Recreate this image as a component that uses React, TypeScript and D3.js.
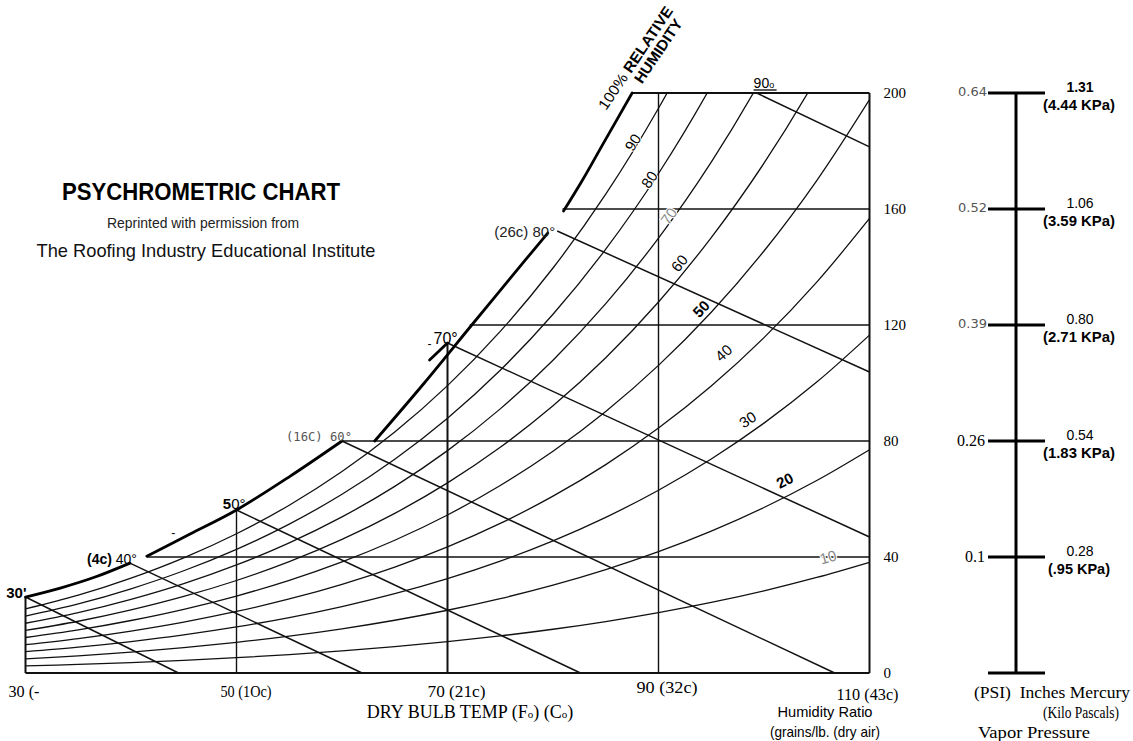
import React from 'react';
import * as d3 from 'd3';

// ---------- DATA ----------
const tempsF = [30, 35, 40, 45, 50, 55, 60, 65, 70, 75, 80, 85, 90, 95, 100, 105, 110];
// saturation vapour pressure of water (psia) at each dry-bulb temperature
const satPressurePsi = [0.0824, 0.09995, 0.12173, 0.14756, 0.17812, 0.21413, 0.25638, 0.30578, 0.36334,
  0.43016, 0.50745, 0.59659, 0.69904, 0.81643, 0.95052, 1.10323, 1.27667];
const ATM_PSI = 14.696;
const rhLevels = [10, 20, 30, 40, 50, 60, 70, 80, 90];
const rhLabelTemps = [106.5, 102.6, 99.1, 97.2, 94.7, 92.6, 91.3, 89.45, 87.9];

// drawn 100% RH (saturation) line, in pieces as printed
const satTempsA = [30, 33.3, 36.6, 39.9];
const satGrainsA = [26.2, 29.3, 33.1, 37.9];
const satTempsB = [41.5, 45.6, 50, 55.1, 60];
const satGrainsB = [40.3, 47.9, 56.2, 67.9, 80];
const satTempsC = [63.1, 67.8, 72.3, 75.9, 79.5];
const satGrainsC = [80, 100, 120, 135.9, 151.7];
const satTempsD = [81.0, 82.8, 84.8, 87.5];
const satGrainsD = [159.3, 170, 182.8, 200];
const satTempsE = [68.3, 70];
const satGrainsE = [107.9, 113.8];

// wet-bulb lines
const wbStartT = [30, 39.9, 50, 60, 70, 80.4, 99.3];
const wbStartW = [26.2, 37.9, 56.2, 80, 113.8, 152.4, 200];
const wbEndT = [44.5, 61.9, 82.6, 106.7, 110, 110, 110];
const wbEndW = [0, 0, 0, 0, 46.9, 103.8, 181.4];

// dry-bulb verticals
const dbTemps = [50, 70, 90];
const dbTopGrains = [56.2, 113.8, 200];

// humidity-ratio horizontals
const hrValues = [40, 80, 120, 160, 200];
const hrStartT = [41.5, 60, 72.1, 80.9, 87.5];
const hrTicks = [0, 40, 80, 120, 160, 200];

const xTickTemps = [30, 50, 70, 90, 110];
const xTickLabels = ['30 (-', '50 (1Oc)', '70 (21c)', '90 (32c)', '110 (43c)'];

// vapour pressure scale
const vpGrains = [200, 160, 120, 80, 40];
const vpPsi = ['0.64', '0.52', '0.39', '0.26', '0.1'];
const vpInHg = ['1.31', '1.06', '0.80', '0.54', '0.28'];
const vpKpa = ['(4.44 KPa)', '(3.59 KPa)', '(2.71 KPa)', '(1.83 KPa)', '(.95 KPa)'];

const grains = (pv: number) => (0.622 * 7000 * pv) / (ATM_PSI - pv);

export default function App() {
  const x = d3.scaleLinear().domain([30, 110]).range([25.5, 869.5]);
  const y = d3.scaleLinear().domain([0, 200]).range([673, 93]);
  const straight = d3.line<[number, number]>().x(d => x(d[0])).y(d => y(d[1]));
  const smooth = d3.line<[number, number]>().x(d => x(d[0])).y(d => y(d[1])).curve(d3.curveCatmullRom.alpha(0.5));
  const pwsAt = d3.scaleLinear().domain(tempsF).range(satPressurePsi);

  const zip = (a: number[], b: number[]) => a.map((v, i) => [v, b[i]] as [number, number]);
  const satSegs = [zip(satTempsA, satGrainsA), zip(satTempsB, satGrainsB), zip(satTempsC, satGrainsC), zip(satTempsD, satGrainsD), zip(satTempsE, satGrainsE)];

  const xLabelOffsets = [[-17, 697], [-16, 697], [-20, 697], [-22, 693], [-33, 700]];
  const xLabelLens = [31, 51, 58, 61, 62];
  const rhStyles: Record<number, { fill: string; weight: string; off: number }> = {
    10: { fill: '#888', weight: 'normal', off: -16.5 },
    20: { fill: '#000', weight: 'bold', off: -14.5 },
    30: { fill: '#000', weight: 'normal', off: -12 },
    40: { fill: '#000', weight: 'normal', off: -16 },
    50: { fill: '#000', weight: 'bold', off: -9.5 },
    60: { fill: '#000', weight: 'normal', off: -8.5 },
    70: { fill: '#888', weight: 'normal', off: -4 },
    80: { fill: '#000', weight: 'normal', off: -4 },
    90: { fill: '#000', weight: 'normal', off: -4 },
  };

  const lineColor = '#111';

  return (
    <svg width={1133} height={741} style={{ position: 'absolute', left: 0, top: 0, background: '#fff' }}
      fontFamily="'Liberation Sans', Arial, sans-serif">
      <defs>
        <clipPath id="plot">
          <rect x={x(30)} y={y(200)} width={x(110) - x(30)} height={y(0) - y(200)} />
        </clipPath>
      </defs>
      <rect x={0} y={0} width={1133} height={741} fill="#fff" />

      {/* RH curves */}
      <g clipPath="url(#plot)" fill="none" stroke={lineColor} strokeWidth={1.3}>
        {rhLevels.map(rh => (
          <path key={rh} d={smooth(tempsF.map((t, i) => [t, grains((rh / 100) * satPressurePsi[i])] as [number, number])) || ''} />
        ))}
      </g>

      {/* horizontals & verticals */}
      <g stroke={lineColor} strokeWidth={1.4}>
        {hrValues.map((w, i) => (
          <line key={w} x1={x(hrStartT[i])} x2={x(110)} y1={y(w)} y2={y(w)} strokeWidth={w === 200 ? 2.2 : 1.4} />
        ))}
        {dbTemps.map((t, i) => (
          <line key={t} x1={x(t)} x2={x(t)} y1={y(0)} y2={y(dbTopGrains[i])} strokeWidth={t === 70 ? 2 : 1.4} />
        ))}
        <line x1={x(30)} x2={x(110)} y1={y(0)} y2={y(0)} strokeWidth={2.2} />
        <line x1={x(110)} x2={x(110)} y1={y(0)} y2={y(200)} strokeWidth={2} />
        <line x1={x(30)} x2={x(30)} y1={y(0)} y2={y(satGrainsA[0])} strokeWidth={2} />
      </g>

      {/* wet-bulb lines */}
      <g fill="none" stroke={lineColor} strokeWidth={1.5}>
        {wbStartT.map((t, i) => (
          <path key={i} d={straight([[t, wbStartW[i]], [wbEndT[i], wbEndW[i]]]) || ''} />
        ))}
      </g>

      {/* saturation line */}
      <g fill="none" stroke="#000" strokeWidth={2.8} strokeLinecap="round">
        {satSegs.map((s, i) => <path key={i} d={smooth(s) || ''} />)}
      </g>

      {/* RH labels */}
      {rhLevels.map((rh, i) => {
        const t = rhLabelTemps[i];
        const w = grains((rh / 100) * pwsAt(t));
        const w1 = grains((rh / 100) * pwsAt(t - 0.6));
        const w2 = grains((rh / 100) * pwsAt(t + 0.6));
        const ang = (Math.atan2(y(w2) - y(w1), x(t + 0.6) - x(t - 0.6)) * 180) / Math.PI;
        const st = rhStyles[rh];
        return (
          <text key={rh} transform={`translate(${x(t)},${y(w)}) rotate(${ang})`} y={st.off} textAnchor="middle" dy="0.35em"
            fontSize={15} fill={st.fill} fontWeight={st.weight} stroke="#fff" strokeWidth={2} paintOrder="stroke">
            {rh}
          </text>
        );
      })}

      {/* saturation point labels */}
      <text x={x(30) + 1} y={y(satGrainsA[0]) + 1} textAnchor="end" fontSize={15} fontWeight="bold">30'</text>
      <text x={x(39.9) + 7} y={y(37.9) + 1} textAnchor="end" fontSize={14}>
        <tspan fontWeight="bold">(4c)</tspan> 40°
      </text>
      <text x={x(44.0)} y={y(46.9)} fontSize={12} textAnchor="middle">-</text>
      <text x={x(50) + 9} y={y(56.2) - 1} textAnchor="end" fontSize={15}>
        <tspan fontWeight="bold">5</tspan>0°
      </text>
      <text x={x(60) + 10} y={y(80) - 0.5} textAnchor="end" fontSize={12} fill="#555"
        fontFamily="'DejaVu Sans Mono', monospace" textLength={66} lengthAdjust="spacingAndGlyphs">(16C) 60°</text>
      <text x={x(70) - 14} y={y(113.8) + 1} fontSize={16}>70°</text>
      <text x={x(68.3)} y={y(112)} fontSize={12} textAnchor="middle">-</text>
      <text x={x(80.4) - 2} y={y(152.4) + 6} textAnchor="end" fontSize={15} fill="#222">(26c) 80°</text>
      <text x={x(99.3) - 3} y={y(200) - 5} fontSize={14}>
        90<tspan fontSize={9}>o</tspan>
      </text>
      <line x1={x(99.3) - 3} x2={x(99.3) + 20} y1={y(200) - 3} y2={y(200) - 3} stroke="#000" strokeWidth={1.3} />

      {/* 100% RELATIVE HUMIDITY */}
      <g transform="translate(606,111) rotate(-56)">
        <text x={0} y={0} fontSize={15} textLength={121} lengthAdjust="spacingAndGlyphs">
          <tspan>100% </tspan><tspan fontWeight="bold">RELATIVE</tspan>
        </text>
        <text x={42} y={15} fontSize={15} fontWeight="bold" textLength={74} lengthAdjust="spacingAndGlyphs">HUMIDITY</text>
      </g>

      {/* title */}
      <text x={201} y={200} textAnchor="middle" fontSize={23} fontWeight="bold" textLength={278} lengthAdjust="spacingAndGlyphs">PSYCHROMETRIC CHART</text>
      <text x={203} y={228} textAnchor="middle" fontSize={15} fill="#222" textLength={192} lengthAdjust="spacingAndGlyphs">Reprinted with permission from</text>
      <text x={206} y={257} textAnchor="middle" fontSize={19} fill="#111" textLength={339} lengthAdjust="spacingAndGlyphs">The Roofing Industry Educational Institute</text>

      {/* right axis ticks */}
      {hrTicks.map(w => (
        <text key={w} x={x(110) + 14} y={y(w) + 5} fontSize={15} fontFamily="'Liberation Serif', serif">{w}</text>
      ))}

      {/* x labels */}
      {xTickTemps.map((t, i) => (
        <text key={t} x={x(t) + xLabelOffsets[i][0]} y={xLabelOffsets[i][1]} fontSize={16} fontFamily="'Liberation Serif', serif"
          textLength={xLabelLens[i]} lengthAdjust="spacingAndGlyphs">{xTickLabels[i]}</text>
      ))}
      <text x={470} y={718} textAnchor="middle" fontSize={18} fontFamily="'Liberation Serif', serif">
        DRY BULB TEMP (F<tspan fontSize={11}>o</tspan>) (C<tspan fontSize={11}>o</tspan>)
      </text>
      <text x={825} y={717} textAnchor="middle" fontSize={15} textLength={95} lengthAdjust="spacingAndGlyphs">Humidity Ratio</text>
      <text x={825} y={737} textAnchor="middle" fontSize={15} textLength={110} lengthAdjust="spacingAndGlyphs">(grains/lb. (dry air)</text>

      {/* vapour pressure scale */}
      <g stroke="#000" strokeWidth={3}>
        <line x1={1016} x2={1016} y1={y(200)} y2={y(0)} />
        {vpGrains.map(w => <line key={w} x1={988} x2={1045} y1={y(w)} y2={y(w)} />)}
        <line x1={988} x2={1045} y1={y(0)} y2={y(0)} />
      </g>
      {vpGrains.map((w, i) => (
        <g key={w}>
          {i < 3 ? (
            <text x={987} y={y(w) + 3} textAnchor="end" fontSize={13} fill="#555" fontFamily="'DejaVu Sans', sans-serif">{vpPsi[i]}</text>
          ) : (
            <text x={985} y={y(w) + 5} textAnchor="end" fontSize={16} fontFamily="'Liberation Serif', serif">{vpPsi[i]}</text>
          )}
          <text x={1080} y={y(w) - 1} textAnchor="middle" fontSize={14} fontWeight={i === 0 ? 'bold' : 'normal'}>{vpInHg[i]}</text>
          <text x={1079} y={y(w) + 17} textAnchor="middle" fontSize={14} fontWeight="bold" textLength={i === 4 ? 62 : 72} lengthAdjust="spacingAndGlyphs">{vpKpa[i]}</text>
        </g>
      ))}
      <text x={974} y={698} fontSize={16} fontFamily="'Liberation Serif', serif" textLength={156} lengthAdjust="spacingAndGlyphs" style={{ whiteSpace: 'pre' }}>(PSI)  Inches Mercury</text>
      <text x={1081} y={718} textAnchor="middle" fontSize={16} fontFamily="'Liberation Serif', serif" textLength={76} lengthAdjust="spacingAndGlyphs">(Kilo Pascals)</text>
      <text x={978} y={738} fontSize={16} fontFamily="'Liberation Serif', serif" textLength={112} lengthAdjust="spacingAndGlyphs">Vapor Pressure</text>
    </svg>
  );
}
